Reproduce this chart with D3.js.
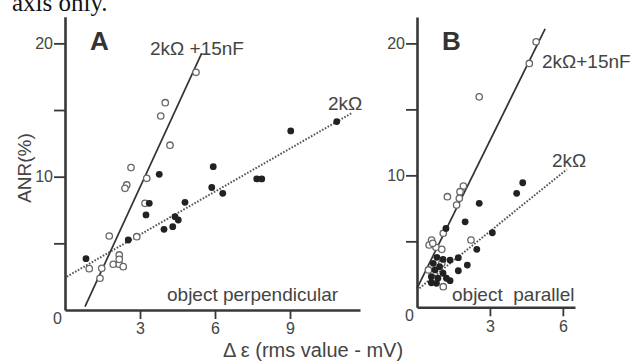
<!DOCTYPE html>
<html>
<head>
<meta charset="utf-8">
<script src="https://cdn.jsdelivr.net/npm/d3@7"></script>
<style>
  body { margin: 0; background: #fff; }
  svg { display: block; font-family: "Liberation Sans", Arial, sans-serif; }
</style>
</head>
<body>
<div id="chart"></div>
<script>
// panel A (object perpendicular): [delta eps, ANR]
const openA = [[5.24, 17.83], [4.01, 15.55], [3.83, 14.55], [4.2, 12.36], [2.64, 10.68], [3.27, 9.88],
  [2.47, 9.38], [2.4, 9.13], [3.2, 8.0], [2.87, 5.5], [1.77, 5.55], [0.97, 3.1], [1.47, 3.13],
  [1.4, 2.38], [2.17, 4.13], [1.93, 3.43], [2.17, 3.43], [2.33, 3.25], [2.17, 3.8]];
const filledA = [[3.77, 10.18], [5.93, 10.75], [3.37, 8.0], [3.24, 7.13], [4.8, 8.08], [5.87, 9.19],
  [4.4, 7.0], [4.53, 6.75], [3.96, 6.05], [4.31, 6.25], [2.53, 5.25], [0.84, 3.85], [10.87, 14.13],
  [9.03, 13.43], [6.31, 8.75], [7.67, 9.83], [7.87, 9.83]];
const fitSolidA = [[0.8, 0.25], [5.47, 19.26]];
const fitDotA = [[0.07, 2.5], [11.5, 14.8]];

// panel B (object parallel)
const openB = [[4.9, 20.12], [4.62, 18.48], [2.56, 15.95], [1.91, 9.19], [1.77, 8.76], [1.74, 8.26],
  [1.63, 7.75], [1.25, 8.38], [1.08, 5.61], [2.22, 5.1], [0.6, 5.1], [0.5, 4.72], [0.78, 4.55],
  [1.02, 4.39], [0.65, 4.85], [1.02, 3.33], [1.08, 1.56], [0.47, 2.83]];
const filledB = [[1.19, 5.98], [1.98, 6.48], [2.56, 7.88], [4.35, 9.44], [4.1, 8.64], [3.1, 5.65],
  [2.46, 4.39], [1.7, 3.76], [2.07, 3.2], [1.7, 2.77], [0.82, 3.79], [1.07, 3.63], [1.36, 3.58],
  [0.67, 3.33], [0.93, 3.08], [0.74, 2.83], [1.07, 2.58], [0.59, 2.32], [0.86, 2.2], [1.21, 2.2],
  [1.36, 2.02], [0.59, 1.86], [0.8, 1.82]];
const fitSolidB = [[0, 1.44], [5.27, 21.1]];
const fitDotB = [[0.1, 1.45], [6.16, 10.45]];

const yTicks = [0, 5, 10, 15, 20];
const yLabels = [10, 20];
const xTicksA = [3, 6, 9];
const xTicksB = [3, 6];

const W = 638, H = 361;
const ink = '#383838', txt = '#444';

const svg = d3.select('#chart').append('svg')
  .attr('width', W).attr('height', H);
svg.append('rect').attr('width', W).attr('height', H).attr('fill', '#fff');

// fragment of the caption above
svg.append('text').attr('x', 12).attr('y', 11)
  .style('font-family', '"Liberation Serif", "Times New Roman", serif')
  .style('font-size', '25px').attr('fill', '#111').text('axis only.');

function panel(o) {
  const x = d3.scaleLinear().domain(o.xDomain).range(o.xRange);
  const y = d3.scaleLinear().domain([0, 22]).range(o.yRange);
  const g = svg.append('g');

  // y axis
  const ya = g.append('g').attr('transform', `translate(${o.xRange[0]},0)`)
    .call(d3.axisLeft(y).tickValues(yTicks).tickSize(11).tickSizeOuter(0)
      .tickFormat(d => yLabels.includes(d) ? d : ''));
  ya.select('.domain').attr('stroke', ink).attr('stroke-width', 2.6);
  ya.selectAll('.tick line').attr('stroke', ink).attr('stroke-width', 1.8)
    .attr('display', d => d === 0 ? 'none' : null);
  ya.selectAll('.tick text').attr('fill', txt).style('font-size', '16px').attr('x', -12);
  // "0" sits below the corner
  g.append('text').attr('x', o.xRange[0] - 3).attr('y', y(0) + 14)
    .attr('text-anchor', 'end').attr('fill', txt).style('font-size', '16px').text('0');

  // x axis
  const xa = g.append('g').attr('transform', `translate(0,${y(0)})`)
    .call(d3.axisBottom(x).tickValues(o.xTicks).tickSize(9).tickSizeOuter(0)
      .tickFormat(d3.format('d')));
  xa.select('.domain').attr('stroke', ink).attr('stroke-width', 2.6);
  xa.selectAll('.tick line').attr('stroke', ink).attr('stroke-width', 1.8);
  xa.selectAll('.tick text').attr('fill', txt).style('font-size', '16px').attr('y', 13);

  const line = d3.line().x(d => x(d[0])).y(d => y(d[1]));
  g.append('path').attr('d', line(o.fitDot)).attr('fill', 'none')
    .attr('stroke', '#555').attr('stroke-width', 2).attr('stroke-dasharray', '1.6,1.6');
  g.append('path').attr('d', line(o.fitSolid)).attr('fill', 'none')
    .attr('stroke', '#333').attr('stroke-width', 1.7);

  g.selectAll('.open').data(o.open).join('circle').attr('class', 'open')
    .attr('cx', d => x(d[0])).attr('cy', d => y(d[1])).attr('r', 3.2)
    .attr('fill', '#fff').attr('stroke', '#666').attr('stroke-width', 1.3);
  g.selectAll('.filled').data(o.filled).join('circle').attr('class', 'filled')
    .attr('cx', d => x(d[0])).attr('cy', d => y(d[1])).attr('r', 3.4)
    .attr('fill', '#222');

  g.append('text').attr('x', o.letter[0]).attr('y', o.letter[1])
    .style('font-size', '26px').style('font-weight', 'bold').attr('fill', '#333').text(o.name);
  o.notes.forEach(n => {
    g.append('text').attr('x', n[0]).attr('y', n[1]).attr('fill', txt)
      .style('font-size', '19px').style('white-space', 'pre').text(n[2]);
  });
}

panel({
  name: 'A', xDomain: [0, 11.8], xRange: [65, 360], yRange: [310, 16.7],
  xTicks: xTicksA, open: openA, filled: filledA, fitSolid: fitSolidA, fitDot: fitDotA,
  letter: [90, 50],
  notes: [[150, 55, '2kΩ +15nF'], [328, 110, '2kΩ'], [167, 301, 'object perpendicular']]
});
panel({
  name: 'B', xDomain: [0, 6.5], xRange: [417, 575], yRange: [307.3, 17],
  xTicks: xTicksB, open: openB, filled: filledB, fitSolid: fitSolidB, fitDot: fitDotB,
  letter: [442, 50],
  notes: [[542, 68, '2kΩ+15nF'], [552, 167, '2kΩ'], [452, 301, 'object  parallel']]
});

// shared axis titles
svg.append('text').attr('transform', 'translate(31,168) rotate(-90)')
  .attr('text-anchor', 'middle').attr('fill', txt).style('font-size', '19px').text('ANR(%)');
svg.append('text').attr('x', 223).attr('y', 357).attr('fill', txt)
  .style('font-size', '20px').text('Δ ε (rms value - mV)');
</script>
</body>
</html>
